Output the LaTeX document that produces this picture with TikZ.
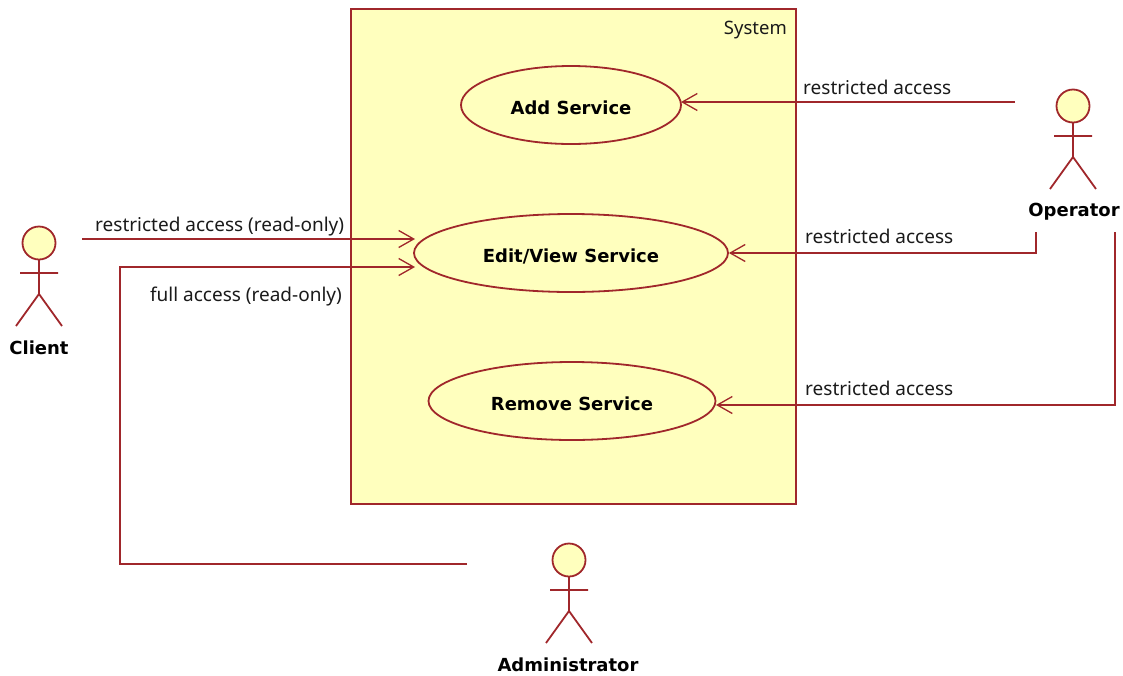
\documentclass[tikz,border=0pt]{standalone}
\usepackage{fontspec}
\setmainfont{Noto Sans}
\newfontfamily\boldface{DejaVu Sans Bold}
\usetikzlibrary{shapes.geometric,arrows.meta}
\definecolor{umlline}{HTML}{A0272B}
\definecolor{umlfill}{HTML}{FFFFBE}
\definecolor{umltext}{HTML}{1A1A1A}
\newcommand{\uselabel}[1]{\raisebox{-9pt}[0pt][0pt]{#1}}
\tikzset{
  umlline/.style={draw=umlline,line width=1.8pt},
  link/.style={umlline,-{Straight Barb[length=15pt,width=17pt,line width=1.3pt]},line join=miter},
  usecase/.style={ellipse,umlline,fill=umlfill,inner sep=0pt,font=\boldface\fontsize{18}{20}\selectfont,text=black},
  linklabel/.style={inner sep=0pt,font=\fontsize{19}{20}\selectfont,text=umltext},
  actorname/.style={inner sep=0pt,font=\boldface\fontsize{18}{20}\selectfont,text=black},
  actor/.pic={
    \draw[umlline] (0,16) -- (0,51) (-19,30) -- (19,30) (-23,83) -- (0,51) -- (23,83);
    \draw[umlline,fill=umlfill] (0,0) circle[radius=16.5];
  }
}
\begin{document}
\begin{tikzpicture}[x=1pt,y=-1pt]
\useasboundingbox (0,0) rectangle (1123,675);
\node[umlline,fill=umlfill,minimum width=445pt,minimum height=495pt,inner sep=0pt] (system) at (573.5,256.5) {};
\node[linklabel,font=\fontsize{18.5}{20}\selectfont,anchor=base east] (systemlabel) at (787,34) {System};

\node[usecase,minimum width=220pt,minimum height=78pt] (add) at (571,105) {\uselabel{Add Service}};
\node[usecase,minimum width=314pt,minimum height=78pt] (edit) at (571,253) {\uselabel{Edit/View Service}};
\node[usecase,minimum width=287pt,minimum height=78pt] (remove) at (572,401) {\uselabel{Remove Service}};

\pic at (39,243) {actor};
\pic at (1073,106) {actor};
\pic at (569,560) {actor};
\node[actorname] (client) at (39,348) {Client};
\node[actorname] (operator) at (1074,212) {Operator};
\node[actorname] (admin) at (568,665) {Administrator};

\coordinate (clientout) at (82,239);
\coordinate (editin1) at (415,239);
\coordinate (editin2) at (415,267);
\coordinate (addin) at (681,102);
\coordinate (opadd) at (1015,102);
\coordinate (opedit) at (1036,232);
\coordinate (opremove) at (1115,232);
\coordinate (removein) at (716,405);
\coordinate (adminout) at (467,564);
\coordinate (bend) at (120,564);

\draw[link] (clientout) -- (editin1);
\draw[link] (adminout) -- (bend) -- (bend |- editin2) -- (editin2);
\draw[link] (opadd) -- (addin);
\draw[link] (opedit) |- (edit.east);
\draw[link] (opremove) |- (removein);

\node[linklabel,anchor=base west] (l1) at (95,231) {restricted access (read-only)};
\node[linklabel,anchor=base east] (l2) at (342,301) {full access (read-only)};
\node[linklabel,anchor=base west] (l3) at (803,94) {restricted access};
\node[linklabel,anchor=base west] (l4) at (805,243) {restricted access};
\node[linklabel,anchor=base west] (l5) at (805,395) {restricted access};
\end{tikzpicture}
\end{document}
